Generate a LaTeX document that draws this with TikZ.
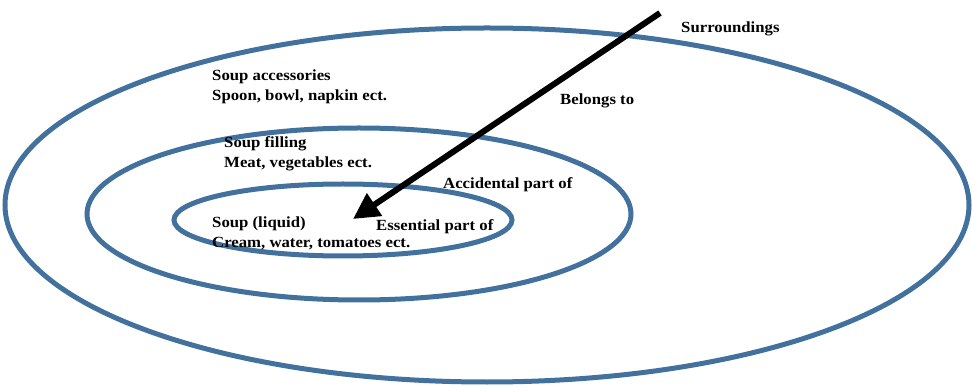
\documentclass[tikz,border=0pt]{standalone}
\usepackage{fontspec}
\setmainfont{Liberation Serif}[FakeStretch=1.08]
\usetikzlibrary{arrows.meta}
\definecolor{ringblue}{RGB}{65,113,156}
\begin{document}
\begin{tikzpicture}[x=1pt,y=-1pt,
  ring/.style={draw=ringblue,line width=5pt},
  lbl/.style={anchor=west,inner sep=0pt,font=\bfseries\fontsize{15.5}{20}\selectfont,align=left}]
\useasboundingbox (0,0) rectangle (972,387);
% nested rings
\draw[ring] (487,205) ellipse [x radius=482,y radius=177];
\draw[ring] (359,214) ellipse [x radius=272,y radius=86];
\draw[ring] (343,220) ellipse [x radius=169,y radius=36];
% arrow
\coordinate (from) at (660,13);
\coordinate (to) at (353,219);
\draw[line width=6pt,-{Triangle[length=26pt,width=26pt]}] (from) -- (to);
% labels
\node[lbl] (sur) at (681,29) {Surroundings};
\node[lbl] (acc) at (212,87) {Soup accessories\\Spoon, bowl, napkin ect.};
\node[lbl] (bel) at (560,101) {Belongs to};
\node[lbl] (fil) at (224,154) {Soup filling\\Meat, vegetables ect.};
\node[lbl] (acd) at (443,185) {Accidental part of};
\node[lbl] (ess) at (376,227) {Essential part of};
\node[lbl] (liq) at (212,233) {Soup (liquid)\\Cream, water, tomatoes ect.};
\end{tikzpicture}
\end{document}
